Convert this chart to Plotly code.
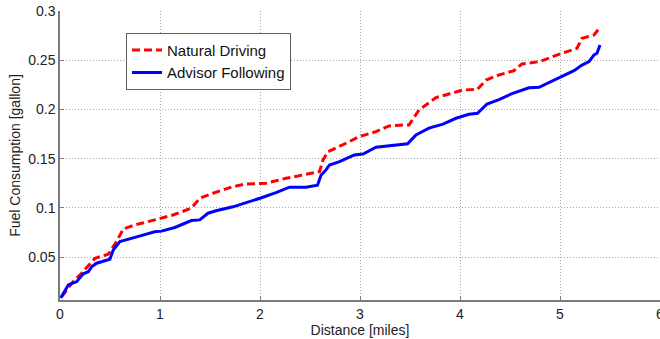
import plotly.graph_objects as go

# Data
natural_x = [0.017, 0.117, 0.216, 0.35, 0.482, 0.565, 0.632, 0.749, 0.948, 1.13, 1.314, 1.397,
             1.53, 1.73, 1.86, 2.06, 2.26, 2.46, 2.595, 2.63, 2.68, 2.86, 2.99, 3.16, 3.29, 3.43,
             3.49, 3.59, 3.76, 3.89, 4.03, 4.175, 4.26, 4.39, 4.54, 4.62, 4.79, 5.02, 5.17, 5.22,
             5.34, 5.40]
natural_y = [0.0097, 0.0233, 0.0335, 0.0487, 0.0528, 0.0656, 0.0785, 0.0826, 0.0877, 0.0927, 0.0996, 0.1097,
             0.1148, 0.1215, 0.1242, 0.125, 0.130, 0.1344, 0.1367, 0.1486, 0.157, 0.1656, 0.1723, 0.1774, 0.1832, 0.1842,
             0.1842, 0.1994, 0.212, 0.2157, 0.2197, 0.2204, 0.2299, 0.235, 0.2394, 0.2462, 0.2485, 0.257, 0.2621, 0.2722,
             0.2756, 0.2834]

advisor_x = [0.007, 0.083, 0.167, 0.233, 0.283, 0.316, 0.366, 0.499, 0.532, 0.599, 0.749, 0.948, 1.015,
             1.148, 1.314, 1.397, 1.48, 1.56, 1.73, 1.896, 2.0, 2.16, 2.295, 2.46, 2.575, 2.61, 2.66,
             2.695, 2.795, 2.944, 3.03, 3.16, 3.29, 3.476, 3.56, 3.69, 3.83, 3.96, 4.09, 4.175, 4.27,
             4.39, 4.52, 4.69, 4.79, 4.99, 5.14, 5.22, 5.29, 5.34, 5.37, 5.40]
advisor_y = [0.0083, 0.0216, 0.025, 0.033, 0.035, 0.040, 0.0437, 0.0477, 0.057, 0.0656, 0.070, 0.0757, 0.0763,
             0.080, 0.087, 0.0877, 0.0945, 0.097, 0.101, 0.106, 0.1097, 0.1154, 0.121, 0.121, 0.123, 0.133, 0.1385,
             0.1435, 0.147, 0.1537, 0.1547, 0.1615, 0.1632, 0.165, 0.174, 0.181, 0.185, 0.191, 0.195, 0.196, 0.2055,
             0.210, 0.216, 0.222, 0.2225, 0.2326, 0.2394, 0.245, 0.2485, 0.2553, 0.257, 0.2655]

x_ticks = [0, 1, 2, 3, 4, 5, 6]
y_ticks = [0.05, 0.1, 0.15, 0.2, 0.25, 0.3]
y_tick_labels = ["0.05", "0.1", "0.15", "0.2", "0.25", "0.3"]

FONT = "Liberation Sans, Arial, Helvetica"

fig = go.Figure()
fig.add_trace(go.Scatter(x=natural_x, y=natural_y, mode="lines", name="Natural Driving",
                         line=dict(color="#ff0000", width=3, dash="8px,4px")))
fig.add_trace(go.Scatter(x=advisor_x, y=advisor_y, mode="lines", name="Advisor Following",
                         line=dict(color="#0000ff", width=3)))

axis_common = dict(
    showgrid=True, gridcolor="#a8a8a8", griddash="1px,2px", gridwidth=1,
    showline=True, linecolor="#7a7a7a", linewidth=1.5,
    ticks="inside", ticklen=4, tickcolor="#7a7a7a",
    zeroline=False, mirror=False, automargin=False,
    tickfont=dict(family=FONT, size=14, color="#222222"),
    ticklabeloverflow="allow",
)

fig.update_xaxes(range=[0, 6], tickvals=x_ticks, ticktext=[str(v) for v in x_ticks],
                 title=dict(text="Distance [miles]", standoff=0,
                            font=dict(family=FONT, size=14, color="#222222")),
                 **axis_common)
fig.update_yaxes(range=[0.0063, 0.3], tickvals=y_ticks, ticktext=y_tick_labels,
                 title=dict(text="Fuel Consumption [gallon]", standoff=4,
                            font=dict(family=FONT, size=14, color="#222222")),
                 **axis_common)

fig.update_layout(
    width=660, height=339,
    margin=dict(l=60, r=0, t=11, b=39),
    plot_bgcolor="white", paper_bgcolor="white",
    legend=dict(x=0.11, y=0.925, xanchor="left", yanchor="top",
                bgcolor="white", bordercolor="#606060", borderwidth=1,
                font=dict(family=FONT, size=15, color="#111111"),
                tracegroupgap=0, itemwidth=30),
)

fig.write_html("out.html")
